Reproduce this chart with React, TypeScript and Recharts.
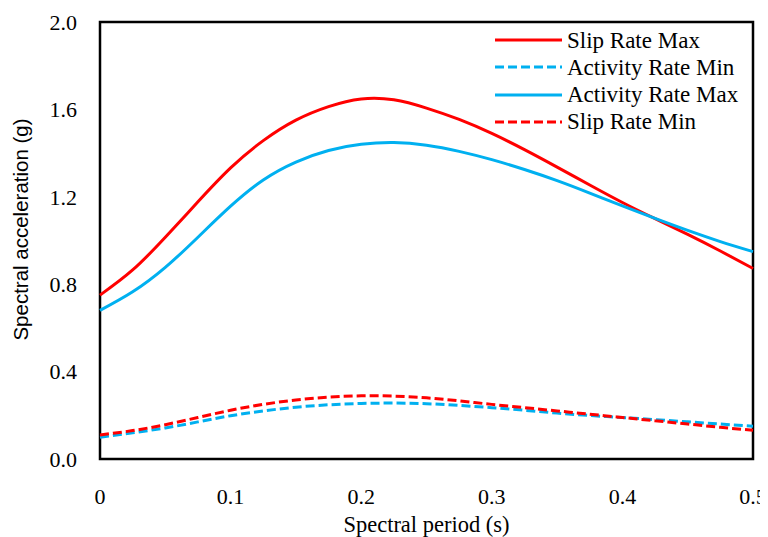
import React from 'react';
import { LineChart, Line, XAxis, YAxis, ReferenceArea, Legend } from 'recharts';

const period = [0, 0.025, 0.05, 0.075, 0.1, 0.125, 0.15, 0.175, 0.2, 0.225, 0.25, 0.275, 0.3, 0.325, 0.35, 0.375, 0.4, 0.425, 0.45, 0.475, 0.5];
const slipRateMax = [0.75, 0.865, 1.015, 1.177, 1.332, 1.457, 1.551, 1.613, 1.648, 1.644, 1.606, 1.554, 1.49, 1.416, 1.336, 1.254, 1.174, 1.1, 1.028, 0.952, 0.872];
const activityRateMin = [0.1, 0.12, 0.142, 0.17, 0.198, 0.22, 0.237, 0.248, 0.254, 0.256, 0.253, 0.245, 0.235, 0.223, 0.21, 0.199, 0.19, 0.18, 0.17, 0.16, 0.15];
const activityRateMax = [0.68, 0.765, 0.877, 1.015, 1.157, 1.277, 1.359, 1.412, 1.44, 1.448, 1.436, 1.408, 1.37, 1.325, 1.274, 1.217, 1.158, 1.101, 1.046, 0.995, 0.949];
const slipRateMin = [0.11, 0.13, 0.157, 0.19, 0.223, 0.25, 0.27, 0.283, 0.289, 0.288, 0.28, 0.266, 0.25, 0.235, 0.22, 0.205, 0.19, 0.175, 0.16, 0.145, 0.132];

const xTicks = [0, 0.1, 0.2, 0.3, 0.4, 0.5];
const yTicks = [0, 0.4, 0.8, 1.2, 1.6, 2.0];

const data = period.map((p, i) => ({
  period: p,
  slipMax: slipRateMax[i],
  actMin: activityRateMin[i],
  actMax: activityRateMax[i],
  slipMin: slipRateMin[i],
}));

const series = [
  { key: 'slipMax', name: 'Slip Rate Max', color: '#FF0000', dash: undefined as string | undefined },
  { key: 'actMin', name: 'Activity Rate Min', color: '#00B0F0', dash: '9 4' },
  { key: 'actMax', name: 'Activity Rate Max', color: '#00B0F0', dash: undefined },
  { key: 'slipMin', name: 'Slip Rate Min', color: '#FF0000', dash: '9 4' },
];

const SERIF = '"Liberation Serif", "Times New Roman", Times, serif';
const SANS = '"Liberation Sans", Arial, sans-serif';

const renderLegend = () => (
  <div style={{ fontFamily: SERIF, fontSize: 23, color: '#000' }}>
    {series.map((s) => (
      <div key={s.key} style={{ display: 'flex', alignItems: 'center', height: 27.3, whiteSpace: 'nowrap' }}>
        <svg width={67} height={10} style={{ display: 'block' }}>
          <line x1={0} y1={5} x2={67} y2={5} stroke={s.color} strokeWidth={3} strokeDasharray={s.dash} />
        </svg>
        <span style={{ marginLeft: 5, lineHeight: '27px' }}>{s.name}</span>
      </div>
    ))}
  </div>
);

const YLabel = () => (
  <text
    x={20}
    y={221.5}
    transform="rotate(-90, 20, 221.5)"
    textAnchor="middle"
    fontFamily={SANS}
    fontSize={20.5}
    fill="#000"
  >
    Spectral acceleration (g)
  </text>
);

export default function App() {
  return (
    <LineChart width={760} height={529} data={data} margin={{ top: 14, right: 15, bottom: 0, left: 0 }}>
      <XAxis
        dataKey="period"
        type="number"
        domain={[0, 0.5]}
        ticks={xTicks}
        tickFormatter={(v: number) => (v === 0 ? '0' : v.toFixed(1))}
        axisLine={false}
        tickLine={false}
        tickSize={0}
        tickMargin={29}
        height={78}
        tick={{ fontFamily: SERIF, fontSize: 22, fill: '#000' }}
        label={{ value: 'Spectral period (s)', position: 'insideBottom', offset: 5, fontFamily: SERIF, fontSize: 22.5, fill: '#000' }}
      />
      <YAxis
        type="number"
        domain={[0, 2]}
        ticks={yTicks}
        tickFormatter={(v: number) => v.toFixed(1)}
        axisLine={false}
        tickLine={false}
        tickSize={0}
        tickMargin={23}
        width={92}
        tick={{ fontFamily: SERIF, fontSize: 22, fill: '#000' }}
        label={<YLabel />}
      />
      <ReferenceArea x1={0} x2={0.5} y1={0} y2={2} fill="none" stroke="#000" strokeWidth={2.5} ifOverflow="visible" />
      {series.map((s) => (
        <Line
          key={s.key}
          dataKey={s.key}
          name={s.name}
          type="natural"
          stroke={s.color}
          strokeWidth={3}
          strokeDasharray={s.dash}
          dot={false}
          activeDot={false}
          isAnimationActive={false}
        />
      ))}
      <Legend
        layout="vertical"
        align="center"
        verticalAlign="middle"
        content={renderLegend}
        wrapperStyle={{ position: 'absolute', top: 18.4, left: 487, width: 270, height: 115 }}
      />
    </LineChart>
  );
}
